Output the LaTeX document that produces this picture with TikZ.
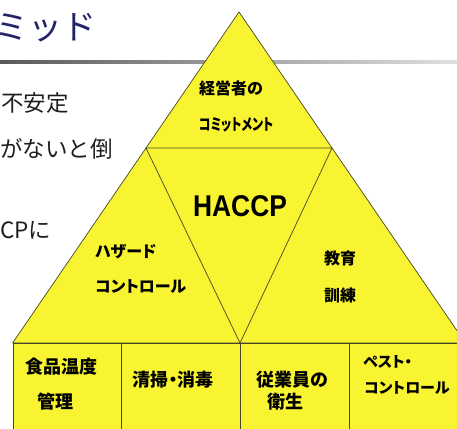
\documentclass[tikz,border=0pt]{standalone}
\usepackage{fontspec}
\newfontfamily\jp[RawFeature=+palt]{Noto Sans CJK JP}
\newfontfamily\jpf{Noto Sans CJK JP}
\newfontfamily\lat{Liberation Sans}
\definecolor{pyr}{RGB}{249,244,50}
\definecolor{edge}{RGB}{70,70,40}
\definecolor{navy}{RGB}{35,35,105}
\definecolor{txt}{RGB}{30,30,30}
\begin{document}
\begin{tikzpicture}[x=1pt,y=-1pt,
  lbl/.style={font=\jp\bfseries\fontsize{16}{18}\selectfont, text=black, inner sep=0pt},
  lblb/.style={font=\jp\bfseries\fontsize{18}{20}\selectfont, text=black, inner sep=0pt},
  lbls/.style={font=\jp\bfseries\fontsize{15}{17}\selectfont, text=black, inner sep=0pt},
  side/.style={font=\jpf\fontsize{22.5}{24}\selectfont, text=txt, inner sep=0pt, anchor=west},
  pyrshape/.style={draw=edge, line width=0.7pt, fill=pyr, line join=round},
  divider/.style={draw=edge, line width=0.7pt}]
\useasboundingbox (0,0) rectangle (457,428);
\clip (0,0) rectangle (457,428);
\fill[white] (0,0) rectangle (457,428);
% title and rule
\node[font=\jpf\fontsize{34}{36}\selectfont, text=navy, inner sep=0pt, anchor=base west] (title) at (-6,40) {ミッド};
\shade[left color=black!65, right color=black!12] (0,60.5) rectangle (457,63.5);
% side texts
\node[side] (s1) at (1,103) {不安定};
\node[side] (s2) at (0,149) {がないと倒};
\node[side] (s3) at (0,230) {CPに};
% pyramid
\coordinate (A) at (239,12);
\coordinate (L) at (12.6,343);
\coordinate (R) at (465.4,343);
\coordinate (P) at (146,148);
\coordinate (Q) at (332,148);
\coordinate (M) at (240,343);
\path[pyrshape] (A) -- (L) -- (R) -- cycle;
\draw[divider] (P) -- (Q) -- (M) -- cycle;
% bottom boxes
\path[pyrshape] (13,343) rectangle (475,440);
\coordinate (d1t) at (121,343); \coordinate (d1b) at (121,440);
\coordinate (d2t) at (240,343); \coordinate (d2b) at (240,440);
\coordinate (d3t) at (349,343); \coordinate (d3b) at (349,440);
\draw[divider] (d1t) -- (d1b);
\draw[divider] (d2t) -- (d2b);
\draw[divider] (d3t) -- (d3b);
% labels
\node[lbl] (t1) at (231,88) {経営者の};
\node[lbl] (t2) at (236,125) {\scalebox{0.75}[1]{コミットメント}};
\node[font=\lat\bfseries\fontsize{30}{32}\selectfont, inner sep=0pt] (h) at (240,206) {\scalebox{0.88}[1]{HACCP}};
\node[lbl, anchor=west] (z1) at (95,252) {ハザード};
\node[lbl, anchor=west] (z2) at (95,287) {コントロール};
\node[lbl] (k1) at (340,258) {教育};
\node[lbl] (k2) at (340,295) {訓練};
\node[lblb] (b1) at (61,367) {食品温度};
\node[lblb] (b2) at (55,402) {管理};
\node[lblb] (b3) at (173,380) {清掃・消毒};
\node[lblb] (b4) at (292,380) {従業員の};
\node[lblb] (b5) at (285,402) {衛生};
\node[lbls, anchor=west] (b6) at (363,362) {ペスト・};
\node[lbls, anchor=west] (b7) at (364,388) {コントロール};
\end{tikzpicture}
\end{document}
